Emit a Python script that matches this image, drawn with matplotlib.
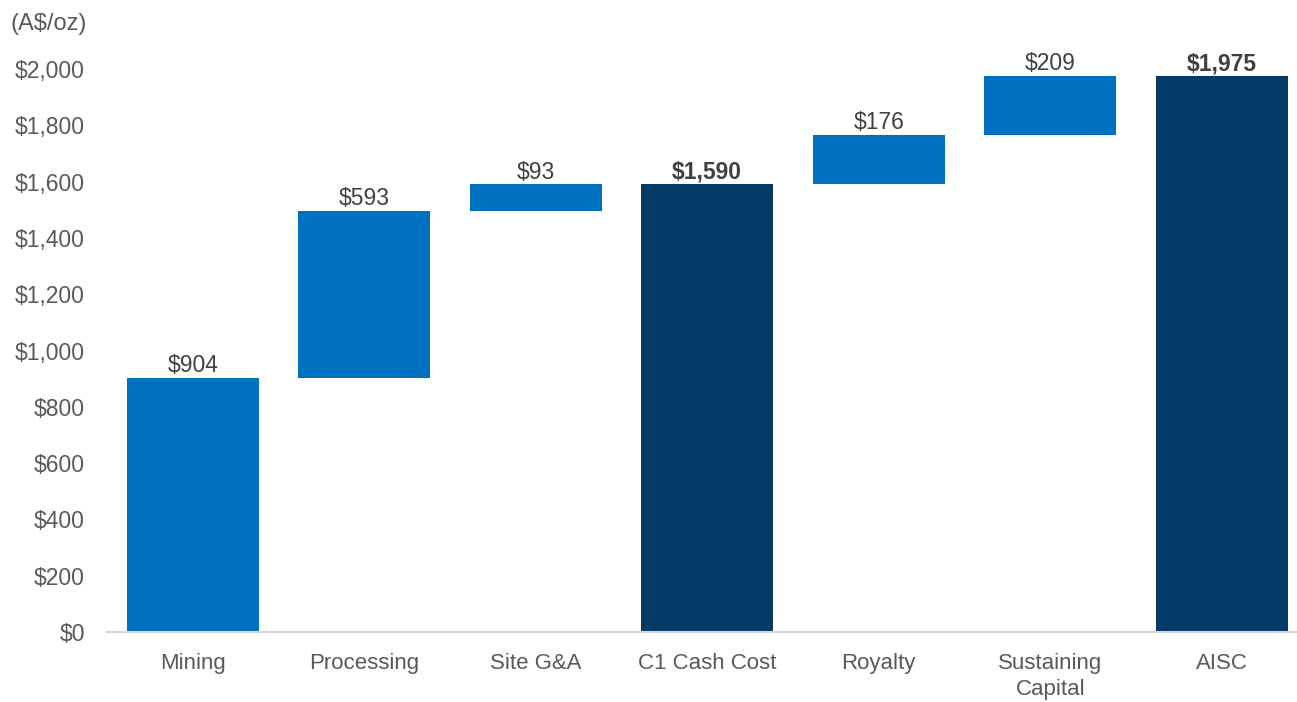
import numpy as np
import matplotlib.pyplot as plt

categories = ["Mining", "Processing", "Site G&A", "C1 Cash Cost", "Royalty", "Sustaining\nCapital", "AISC"]
values = [904, 593, 93, 1590, 176, 209, 1975]
is_total = [False, False, False, True, False, False, True]
value_labels = ["$904", "$593", "$93", "$1,590", "$176", "$209", "$1,975"]
yticks = [0, 200, 400, 600, 800, 1000, 1200, 1400, 1600, 1800, 2000]

blue = "#0070C0"
navy = "#033A66"
grey = "#595959"

# waterfall bottoms
bottoms = []
running = 0
for v, t in zip(values, is_total):
    if t:
        bottoms.append(0)
        running = v
    else:
        bottoms.append(running)
        running += v

fig = plt.figure(figsize=(12.97, 7.02), dpi=100)
ax = fig.add_axes([0.0825, 0.0997, 0.918, 0.802])

x = np.arange(len(categories))
colors = [navy if t else blue for t in is_total]
ax.bar(x, values, bottom=bottoms, width=0.77, color=colors, zorder=2)

for xi, v, b, lab, t in zip(x, values, bottoms, value_labels, is_total):
    ax.annotate(lab, (xi, v + b), xytext=(0, 0.5), textcoords="offset points",
                ha="center", va="bottom", fontsize=16.5,
                fontweight="bold" if t else "normal",
                color="#404040", family="Liberation Sans", clip_on=False)

ax.set_xlim(-0.5, 6.443)
ax.set_ylim(0, 2000)
ax.set_yticks(yticks)
ax.set_yticklabels(["${:,}".format(t) for t in yticks], fontsize=16.5,
                   color=grey, family="Liberation Sans")
ax.set_xticks(x)
ax.set_xticklabels(categories, fontsize=16, color=grey,
                   family="Liberation Sans", linespacing=1.35)
ax.tick_params(axis="y", length=0, pad=16)
ax.tick_params(axis="x", length=0, pad=15)

for s in ["top", "right", "left"]:
    ax.spines[s].set_visible(False)
ax.spines["bottom"].set_color("#D9D9D9")
ax.spines["bottom"].set_linewidth(1.5)
ax.spines["bottom"].set_zorder(3)

fig.text(0.008, 0.966, "(A$/oz)", fontsize=17, color=grey,
         family="Liberation Sans", ha="left", va="center")

fig.savefig("out.png", dpi=100)
